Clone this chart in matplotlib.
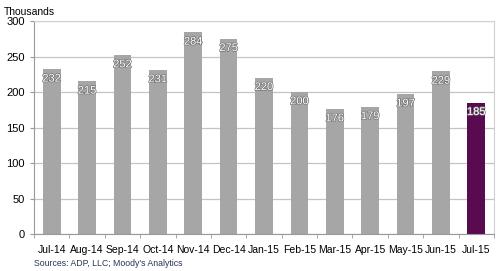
import matplotlib.pyplot as plt
import matplotlib.patheffects as pe

plt.rcParams['font.family'] = ['Liberation Sans', 'DejaVu Sans']

months = ['Jul-14', 'Aug-14', 'Sep-14', 'Oct-14', 'Nov-14', 'Dec-14', 'Jan-15',
          'Feb-15', 'Mar-15', 'Apr-15', 'May-15', 'Jun-15', 'Jul-15']
jobs = [232, 215, 252, 231, 284, 275, 220, 200, 176, 179, 197, 229, 185]

colors = ['#a6a6a6'] * (len(jobs) - 1) + ['#5a0a4e']

fig = plt.figure(figsize=(5, 2.71), dpi=100)
ax = fig.add_axes([0.068, 0.1365, 0.92, 0.786])

x = range(len(months))
ax.bar(x, jobs, width=0.5, color=colors, zorder=2)
for i, v in enumerate(jobs):
    ax.text(i, v - 6, str(v), ha='center', va='top', color='white', fontsize=8,
            zorder=3, path_effects=[pe.withStroke(linewidth=1.0, foreground='#707070')])

ax.set_xlim(-0.5, len(months) - 0.5)
ax.set_ylim(0, 300)
ax.set_yticks(range(0, 301, 50))
ax.yaxis.grid(True, color='#c4c4c4', linewidth=0.9, zorder=0)
ax.set_xticks(list(x))
ax.set_xticklabels(months, fontsize=7.5)
ax.set_xticks([i + 0.5 for i in range(-1, len(months))], minor=True)
ax.tick_params(axis='x', which='major', length=0, pad=8)
ax.tick_params(axis='x', which='minor', length=3, color='#999999')
ax.tick_params(axis='y', length=3, color='#999999', labelsize=8)

for side in ['top', 'right']:
    ax.spines[side].set_color('#d0d0d0')
ax.spines['left'].set_color('#999999')
ax.spines['bottom'].set_color('#999999')

fig.text(0.008, 0.975, 'Thousands', fontsize=7.5, va='top', ha='left')
fig.text(0.068, 0.012, "Sources: ADP, LLC; Moody's Analytics", fontsize=6.3,
         color='#2b3656', va='bottom', ha='left')

fig.savefig('out.png', dpi=100)
